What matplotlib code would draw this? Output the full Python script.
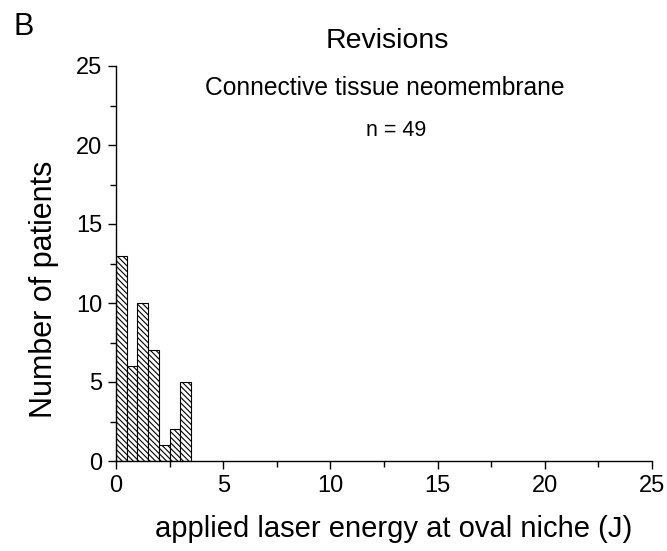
import matplotlib.pyplot as plt
import numpy as np

plt.rcParams['font.family'] = ['Liberation Sans', 'DejaVu Sans']
plt.rcParams['hatch.linewidth'] = 0.8

# histogram of applied laser energy (J), bin width 0.5
bin_left = [0.0, 0.5, 1.0, 1.5, 2.0, 2.5, 3.0]
counts = [13, 6, 10, 7, 1, 2, 5]
bin_width = 0.5

W, H = 667, 551
fig = plt.figure(figsize=(W / 100, H / 100), dpi=100)
ax = fig.add_axes([116 / W, (H - 461) / H, (652 - 116) / W, (461 - 66) / H])

ax.bar(bin_left, counts, width=bin_width, align='edge', color='white',
       edgecolor='black', linewidth=0.8, hatch='\\\\\\\\\\\\')

ax.set_xlim(0, 25)
ax.set_ylim(0, 25)
ax.set_xticks(np.arange(0, 26, 5))
ax.set_yticks(np.arange(0, 26, 5))
ax.set_xticks(np.arange(2.5, 25, 5), minor=True)
ax.set_yticks(np.arange(2.5, 25, 5), minor=True)
ax.tick_params(axis='both', which='major', direction='out', length=6, width=1,
               labelsize=17, pad=4)
ax.tick_params(axis='both', which='minor', direction='out', length=4, width=1)
ax.spines['top'].set_visible(False)
ax.spines['right'].set_visible(False)
ax.spines['left'].set_linewidth(1)
ax.spines['bottom'].set_linewidth(1)

fig.text(394 / W, (H - 537) / H, 'applied laser energy at oval niche (J)',
         ha='center', va='baseline', fontsize=21)
fig.text(44 / W, (H - 289) / H, 'Number of patients', rotation=90,
         ha='center', va='center', fontsize=22)

ax.text(387 / W, (H - 48) / H, 'Revisions', transform=fig.transFigure,
        ha='center', va='baseline', fontsize=20.5)
ax.text(385 / W, (H - 95) / H, 'Connective tissue neomembrane', transform=fig.transFigure,
        ha='center', va='baseline', fontsize=17.7)
ax.text(396 / W, (H - 136) / H, 'n = 49', transform=fig.transFigure,
        ha='center', va='baseline', fontsize=15.5)

fig.text(24 / W, (H - 27) / H, 'B', ha='center', va='center', fontsize=22)

fig.savefig('out.png', dpi=100)
